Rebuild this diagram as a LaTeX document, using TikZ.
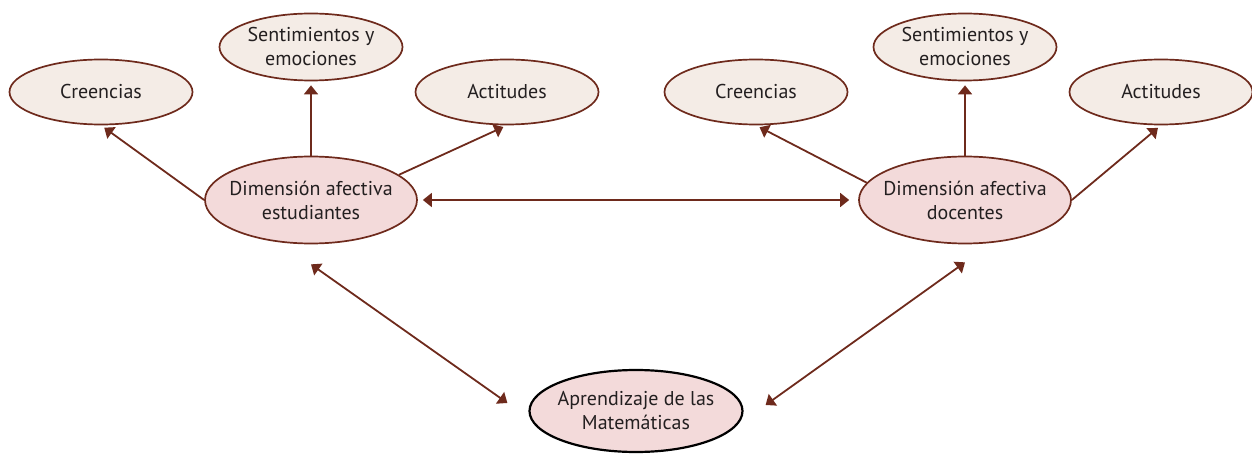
\documentclass[tikz,border=0pt]{standalone}
\usepackage{fontspec}
\setmainfont{PT Sans}
\usetikzlibrary{arrows.meta, positioning, shapes.geometric}

\definecolor{linebrown}{RGB}{110,42,28}
\definecolor{outerfill}{RGB}{244,236,230}
\definecolor{dimfill}{RGB}{243,218,218}
\definecolor{textgray}{RGB}{35,31,32}

\begin{document}
\begin{tikzpicture}[
  x=1pt, y=-1pt,
  font=\fontsize{20}{24}\selectfont, text=textgray,
  outer/.style = {ellipse, draw=linebrown, line width=1.7pt, fill=outerfill, inner sep=0pt, minimum width=183pt, minimum height=65pt, align=center},
  dimension/.style = {ellipse, draw=linebrown, line width=1.7pt, fill=dimfill, inner sep=0pt, inner xsep=-7.5pt, minimum width=212pt, minimum height=87pt, align=center},
  arrow/.style = {line width=1.8pt, linebrown, -{Triangle[width=14pt,length=9pt]}, shorten >=4pt},
  darrow/.style = {line width=1.8pt, linebrown, {Triangle[width=14pt,length=9pt]}-{Triangle[width=14pt,length=9pt]}}
]
  \useasboundingbox (0,0) rectangle (1252,454);

  % Students side
  \node[dimension] (dimE) at (311,200) {Dimensión afectiva\\estudiantes};
  \node[outer] (creE) at (101,92) {Creencias};
  \node[outer, minimum height=67pt] (senE) at (311,47) {Sentimientos y\\emociones};
  \node[outer] (actE) at (507,92) {Actitudes};

  % Teachers side
  \node[dimension] (dimD) at (965,200) {Dimensión afectiva\\docentes};
  \node[outer] (creD) at (756,92) {Creencias};
  \node[outer, minimum height=67pt] (senD) at (965,47) {Sentimientos y\\emociones};
  \node[outer] (actD) at (1161,92) {Actitudes};

  % Learning
  \node[dimension, draw=black, line width=2.2pt, inner xsep=-4pt, minimum width=213pt, minimum height=82pt] (apr) at (636,411) {Aprendizaje de las\\Matemáticas};

  % Students -> components
  \draw[arrow] (dimE.west) -- (creE.south);
  \draw[arrow] (dimE.north) -- (senE.south);
  \draw[arrow] (dimE.16) -- (actE.south);

  % Teachers -> components
  \draw[arrow] (dimD.170) -- (creD.south);
  \draw[arrow] (dimD.north) -- (senD.south);
  \draw[arrow] (dimD.east) -- (actD.south);

  % Students <-> teachers
  \draw[darrow, shorten <=5pt, shorten >=9pt] (dimE.east) -- (dimD.west);

  % Both sides <-> learning
  \draw[darrow] ([yshift=-20pt]dimE.south) -- ([xshift=-21pt,yshift=8pt]apr.west);
  \draw[darrow] ([yshift=-18pt]dimD.south) -- ([xshift=22pt,yshift=6pt]apr.east);

\end{tikzpicture}
\end{document}
